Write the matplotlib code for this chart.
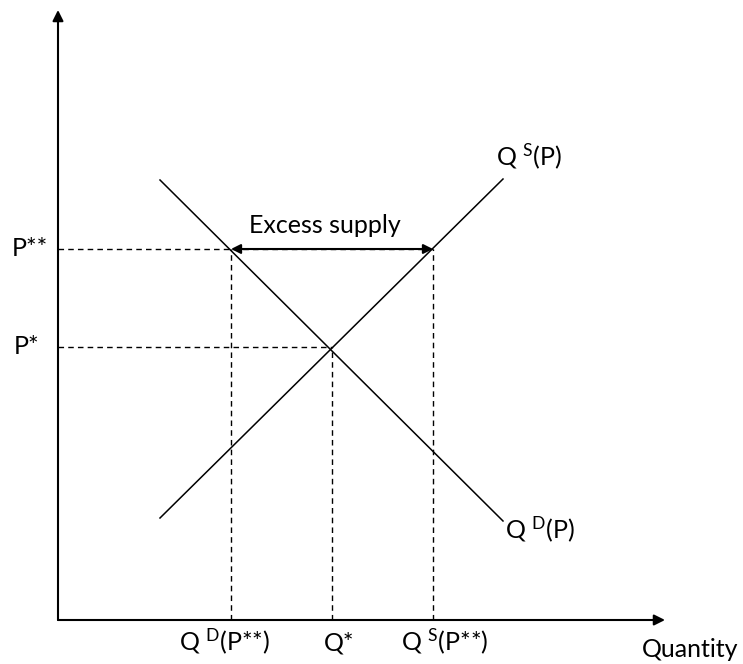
import matplotlib
matplotlib.use("Agg")
import matplotlib.pyplot as plt

plt.rcParams['font.family'] = ['Lato', 'DejaVu Sans']
plt.rcParams['mathtext.fontset'] = 'custom'
plt.rcParams['mathtext.rm'] = 'Lato'
plt.rcParams['mathtext.it'] = 'Lato'

# data (arbitrary units)
supply_q = [102, 445]
supply_p = [102, 441]
demand_q = [102, 445]
demand_p = [440, 99]
P_star, P_2star = 273, 371
Q_star, Q_D, Q_S = 274, 173, 375
x_axis_end, y_axis_end = 607, 610

fig = plt.figure(figsize=(7.43, 6.64), dpi=100)
ax = fig.add_axes([0, 0, 1, 1])
ax.set_xlim(-58, 685)
ax.set_ylim(-44, 620)
ax.axis('off')

fs = 18
lw = 1.1
# axes arrows
ax.annotate('', xy=(0, y_axis_end), xytext=(0, 0),
            arrowprops=dict(arrowstyle='-|>', color='black', lw=1.5, mutation_scale=16, shrinkA=0, shrinkB=0))
ax.annotate('', xy=(x_axis_end, 0), xytext=(0, 0),
            arrowprops=dict(arrowstyle='-|>', color='black', lw=1.5, mutation_scale=16, shrinkA=0, shrinkB=0))

# curves
ax.plot(supply_q, supply_p, color='black', lw=lw)
ax.plot(demand_q, demand_p, color='black', lw=lw)

dash = dict(color='black', lw=1.0, linestyle=(0, (4, 3)))
ax.plot([0, Q_S], [P_2star, P_2star], **dash)
ax.plot([0, Q_star], [P_star, P_star], **dash)
ax.plot([Q_D, Q_D], [0, P_2star], **dash)
ax.plot([Q_S, Q_S], [0, P_2star], **dash)
ax.plot([Q_star, Q_star], [0, P_star], **dash)

ax.annotate('', xy=(Q_D, P_2star), xytext=(Q_S, P_2star),
            arrowprops=dict(arrowstyle='<|-|>', color='black', lw=1.5, mutation_scale=14, shrinkA=0, shrinkB=0))
ax.text(267, 387, 'Excess supply', ha='center', va='baseline', fontsize=fs)

ax.text(-10, P_2star, 'P**', ha='right', va='center', fontsize=fs)
ax.text(-19, P_star, 'P*', ha='right', va='center', fontsize=fs)

ax.text(167, -30, r'Q $^{\mathrm{D}}$(P**)', ha='center', va='baseline', fontsize=fs)
ax.text(281, -30, 'Q*', ha='center', va='baseline', fontsize=fs)
ax.text(387, -30, r'Q $^{\mathrm{S}}$(P**)', ha='center', va='baseline', fontsize=fs)
ax.text(632, -37, 'Quantity', ha='center', va='baseline', fontsize=fs)

ax.text(471, 455, r'Q $^{\mathrm{S}}$(P)', ha='center', va='baseline', fontsize=fs)
ax.text(482, 82, r'Q $^{\mathrm{D}}$(P)', ha='center', va='baseline', fontsize=fs)

fig.savefig('out.png', dpi=100)
